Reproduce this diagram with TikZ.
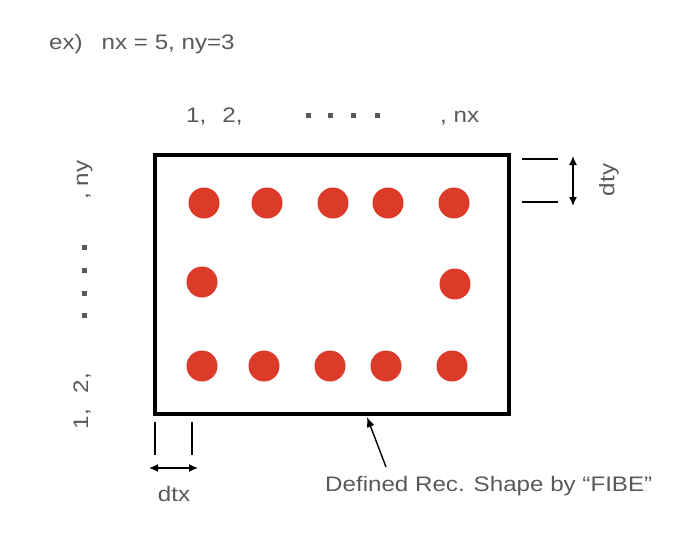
\documentclass[tikz,border=0pt]{standalone}
\usepackage{fontspec}
\setmainfont[FakeStretch=1.15]{Liberation Sans}
\usetikzlibrary{arrows.meta}
\definecolor{txtgray}{HTML}{595959}
\definecolor{fibred}{HTML}{DB3B28}
\begin{document}
\begin{tikzpicture}[x=1pt,y=-1pt,
  lbl/.style={inner sep=0pt,text=txtgray,font=\fontsize{21}{25}\selectfont},
  fibre/.style={circle,fill=fibred,minimum size=31pt,inner sep=0pt},
  sq/.style={rectangle,fill=txtgray,minimum size=5pt,inner sep=0pt},
  thin line/.style={line width=1.4pt,black},
  dimarrow/.style={line width=1.4pt,black,{Latex[length=9pt,width=8pt]}-{Latex[length=9pt,width=8pt]}}]
\useasboundingbox (0,0) rectangle (699,555);
% title
\node[lbl,anchor=base west] (title) at (49,49) {ex)\hspace{19pt}nx = 5, ny=3};
% section rectangle
\draw[line width=4pt] (155,155) rectangle (509,414);
\coordinate (recbot) at (367,417);
% fibres
\foreach \x/\n in {204/1,267/2,333/3,388/4,454/5} \node[fibre] (t\n) at (\x,203) {};
\foreach \x/\n in {202/1,264/2,330/3,386/4,452/5} \node[fibre] (b\n) at (\x,366) {};
\node[fibre] (m1) at (202,282) {};
\node[fibre] (m2) at (455,284) {};
% top index labels
\node[lbl,anchor=base west] (xlab) at (186,122) {1,\hspace{16pt}2,};
\foreach \x/\n in {308/1,330/2,353/3,377/4} \node[sq] (xd\n) at (\x,115.5) {};
\node[lbl,anchor=base west] (xnx) at (440,122) {, nx};
% left index labels
\node[lbl,anchor=base west,rotate=90] (ylab) at (88,429.5) {1,\hspace{16pt}2,};
\foreach \y/\n in {247/1,270/2,293/3,315/4} \node[sq] (yd\n) at (84,\y) {};
\node[lbl,anchor=base west,rotate=90] (yny) at (88,200) {, ny};
% dty
\coordinate (dty1a) at (522,159); \coordinate (dty1b) at (558,159);
\coordinate (dty2a) at (522,202); \coordinate (dty2b) at (558,202);
\draw[thin line] (dty1a) -- (dty1b);
\draw[thin line] (dty2a) -- (dty2b);
\coordinate (dtyt) at (573,156); \coordinate (dtyb) at (573,206);
\draw[dimarrow] (dtyt) -- (dtyb);
\node[lbl,rotate=90] (dty) at (609,180) {dty};
% dtx
\coordinate (dtx1a) at (155,422); \coordinate (dtx1b) at (155,455);
\coordinate (dtx2a) at (192,422); \coordinate (dtx2b) at (192,455);
\draw[thin line] (dtx1a) -- (dtx1b);
\draw[thin line] (dtx2a) -- (dtx2b);
\coordinate (dtxl) at (149,468); \coordinate (dtxr) at (198,468);
\draw[dimarrow] (dtxl) -- (dtxr);
\node[lbl] (dtx) at (174,494) {dtx};
% shape label
\node[lbl,anchor=base west] (shape) at (325,491) {Defined Rec. Shape by “FIBE”};
\coordinate (arrtail) at (386,467);
\draw[line width=1.4pt,-{Latex[length=10pt,width=8pt]}] (arrtail) -- (recbot);
\end{tikzpicture}
\end{document}
